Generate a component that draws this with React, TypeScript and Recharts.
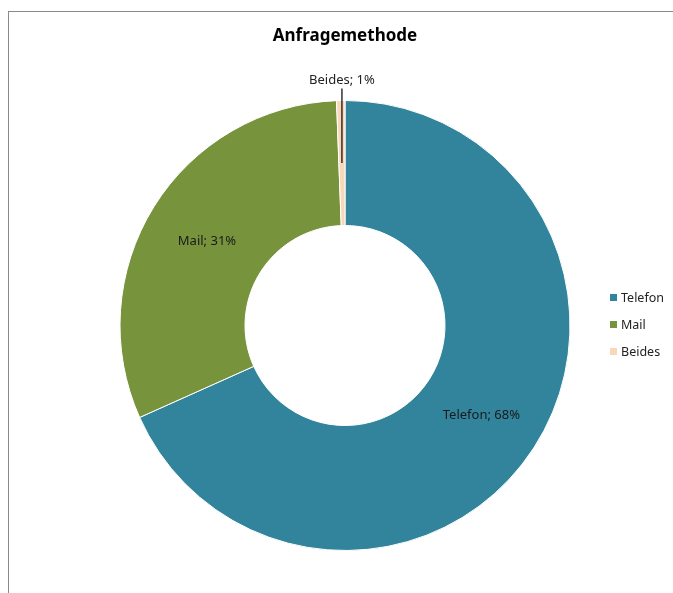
import React from 'react';
import { PieChart, Pie, Cell, Legend } from 'recharts';

const categories = ['Telefon', 'Mail', 'Beides'];
const shares = [68.3, 31.1, 0.6];
const colors = ['#31849B', '#77933C', '#FAD7B8'];

const data = categories.map((name, i) => ({ name, value: shares[i] }));

const FONT = '"Noto Sans", "Open Sans", sans-serif';
const RADIAN = Math.PI / 180;

const renderLabel = (props: any) => {
  const { cx, cy, midAngle, innerRadius, outerRadius, percent, name } = props;
  const r = (innerRadius + outerRadius) / 2;
  const x = cx + r * Math.cos(-midAngle * RADIAN);
  const y = cy + r * Math.sin(-midAngle * RADIAN);
  const text = `${name}; ${Math.round(percent * 100)}%`;
  if (percent < 0.05) {
    const topY = cy - outerRadius - 12;
    return (
      <g>
        <line x1={x} y1={y} x2={x} y2={topY} stroke="#000" strokeWidth={1.2} />
        <text x={x} y={topY - 10} textAnchor="middle" dominantBaseline="central" fill="#222" fontSize={13} fontFamily={FONT}>
          {text}
        </text>
      </g>
    );
  }
  return (
    <text x={x} y={y} textAnchor="middle" dominantBaseline="central" fill="#1a1a1a" fontSize={13} fontFamily={FONT}>
      {text}
    </text>
  );
};

const LegendContent = () => (
  <div style={{ fontFamily: FONT, fontSize: 12.5, color: '#222', whiteSpace: 'nowrap' }}>
    {categories.map((c, i) => (
      <div key={c} style={{ display: 'flex', alignItems: 'center', height: 27 }}>
        <span style={{ width: 7, height: 7, background: colors[i], marginRight: 4, display: 'inline-block' }} />
        <span>{c}</span>
      </div>
    ))}
  </div>
);

export default function App() {
  return (
    <div style={{ position: 'relative', width: 665, height: 577, overflow: 'hidden' }}>
      <div
        style={{
          position: 'fixed',
          left: 8,
          top: 11,
          width: 700,
          height: 700,
          borderTop: '1px solid #8a8a8a',
          borderLeft: '1px solid #8a8a8a',
          boxSizing: 'border-box',
        }}
      />
      <div
        style={{
          position: 'absolute',
          left: 0,
          top: 15,
          width: 674,
          textAlign: 'center',
          fontFamily: FONT,
          fontWeight: 'bold',
          fontSize: 17,
          color: '#000',
        }}
      >
        Anfragemethode
      </div>
      <div style={{ position: 'absolute', left: 0, top: 0 }}>
        <PieChart width={665} height={577} margin={{ top: 0, right: 0, bottom: 0, left: 0 }}>
          <Pie
            data={data}
            dataKey="value"
            nameKey="name"
            cx={337}
            cy={317.5}
            innerRadius={100}
            outerRadius={225}
            startAngle={90}
            endAngle={-270}
            stroke="#fff"
            strokeWidth={1}
            label={renderLabel}
            labelLine={false}
            isAnimationActive={false}
          >
            {data.map((d, i) => (
              <Cell key={d.name} fill={colors[i]} />
            ))}
          </Pie>
          <Legend content={<LegendContent />} wrapperStyle={{ position: 'absolute', left: 602, top: 276, width: 62 }} />
        </PieChart>
      </div>
    </div>
  );
}
